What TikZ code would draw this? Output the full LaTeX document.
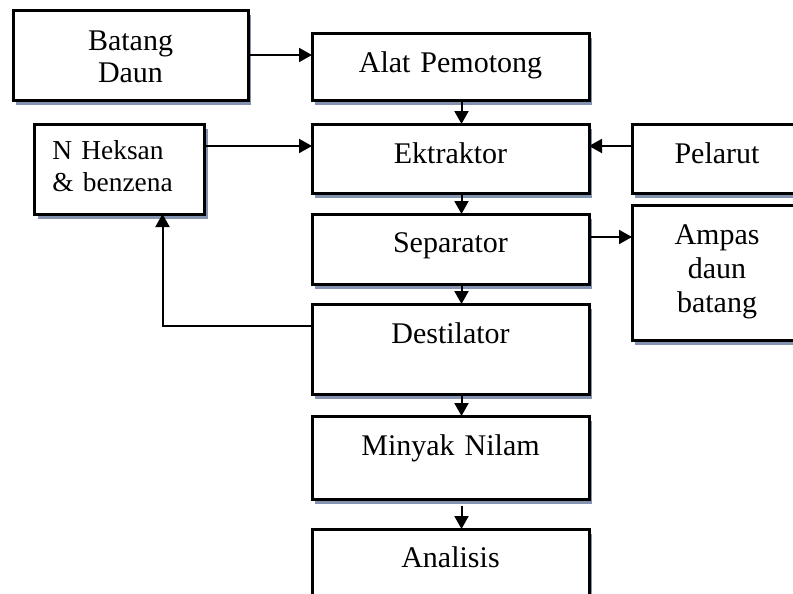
\documentclass[tikz,border=0pt]{standalone}
\usepackage{fontspec}
\setmainfont{Liberation Serif}
\usepackage{tikz}
\usetikzlibrary{positioning,arrows.meta,shadows}
\definecolor{shadowblue}{RGB}{132,148,176}
\tikzset{
  box/.style ={draw, line width=1.5pt, fill=white, inner sep=0pt, outer sep=0pt, align=center,
               font=\fontsize{15}{17}\selectfont, text height=19.5pt,
               drop shadow={shadow xshift=1.5pt, shadow yshift=-2.5pt, fill=shadowblue, opacity=1}},
  ar/.style  ={-{Triangle[length=6.5pt,width=7pt]}, line width=1pt},
}
\begin{document}
\begin{tikzpicture}
\useasboundingbox (0,0) rectangle (396.5pt,-297pt);
\clip (0,0) rectangle (396.5pt,-297pt);

\node[box,anchor=north west,text width=117.5pt,text height=20pt,text depth=25pt] (batang) at (6.5pt,-5pt) {Batang\\[-0.5pt]Daun};
\node[box,anchor=south west,text width=138.5pt,text depth=14pt] (alat) at ([xshift=32pt]batang.south east) {Alat Pemotong};
\node[box,below=12pt of alat,text width=138.5pt,text depth=15pt] (ekt) {Ektraktor};
\node[box,below=10.5pt of ekt,text width=138.5pt,text height=19pt,text depth=16pt] (sep) {Separator};
\node[box,below=10pt of sep,text width=138.5pt,text depth=25.5pt] (dest) {Destilator};
\node[box,below=11pt of dest,text width=138.5pt,text depth=22pt] (minyak) {Minyak Nilam};
\node[box,below=15pt of minyak,text width=138.5pt,text height=19pt,text depth=26pt] (anal) {Analisis};

\node[box,anchor=north east,align=left,inner xsep=9pt,text width=67pt,text height=17.5pt,text depth=27.5pt,
      font=\fontsize{13.7}{16}\selectfont] (nhek) at ([xshift=-53.75pt]ekt.north west) {N Heksan\\\& benzena};
\node[box,anchor=north west,text width=85pt,text depth=15pt] (pelarut) at ([xshift=21.5pt]ekt.north east) {Pelarut};
\node[box,anchor=north west,text width=85pt,text depth=48pt] (ampas) at ([xshift=21.5pt,yshift=4.5pt]sep.north east) {Ampas\\daun\\batang};

\draw[ar] (batang.east) -- (batang.east -| alat.west);
\draw[ar] ([xshift=5.5pt]alat.south) -- ([xshift=5.5pt]ekt.north);
\draw[ar] ([xshift=5.5pt]ekt.south) -- ([xshift=5.5pt]sep.north);
\draw[ar] ([xshift=5.5pt]sep.south) -- ([xshift=5.5pt]dest.north);
\draw[ar] ([xshift=5.5pt]dest.south) -- ([xshift=5.5pt]minyak.north);
\draw[ar] ([xshift=5.5pt,yshift=-3.5pt]minyak.south) -- ([xshift=5.5pt]anal.north);
\draw[ar] ([yshift=-11pt]nhek.north east) -- ([yshift=-11pt]ekt.north west);
\draw[ar] ([yshift=-11pt]pelarut.north west) -- ([yshift=-11pt]ekt.north east);
\draw[ar] ([yshift=-11.5pt]sep.north east) -- ([yshift=-11.5pt]sep.north east -| ampas.west);
\draw[ar] ([yshift=-11pt]dest.north west) -| ([xshift=64pt]nhek.south west);
\end{tikzpicture}
\end{document}
